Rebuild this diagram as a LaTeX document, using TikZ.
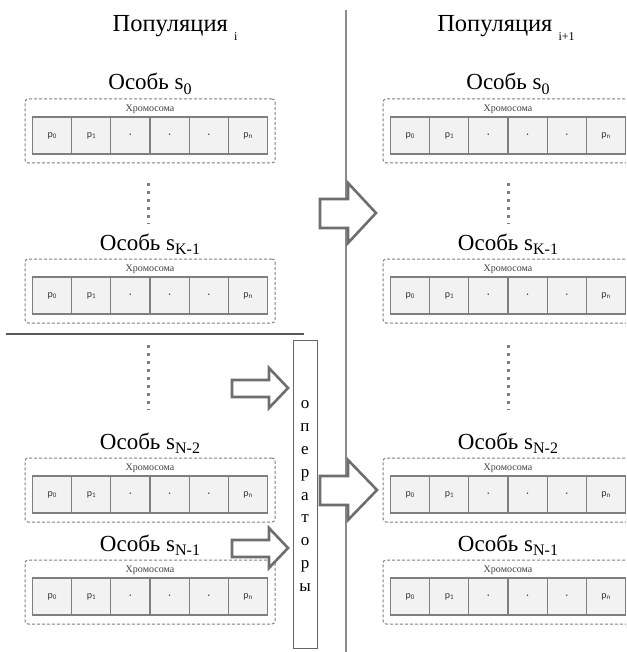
\documentclass[tikz,border=0pt]{standalone}
\usepackage{fontspec}
\setmainfont{Liberation Serif}
\newfontfamily\cellfont{Carlito}
\definecolor{boxgray}{HTML}{7F7F7F}
\definecolor{cellfill}{HTML}{F2F2F2}
\definecolor{arrgray}{HTML}{6E6E6E}
\definecolor{linegray}{HTML}{8C8C8C}
\newcommand\osub[1]{\raisebox{-0.45ex}{\fontsize{16}{16}\selectfont #1}}
\newcommand\csub[1]{\raisebox{-0.35ex}{\fontsize{7}{7}\selectfont #1}}
\newcommand\psub[1]{\raisebox{-0.75ex}{\fontsize{12}{12}\selectfont #1}}
\tikzset{
  ttl/.style={font=\fontsize{23}{23}\selectfont, text=black, inner sep=0pt, anchor=base},
  poptl/.style={font=\fontsize{24.5}{24.5}\selectfont, text=black, inner sep=0pt, anchor=base},
  chromo/.style={draw=boxgray, line width=1pt, dash pattern=on 3pt off 2pt, rounded corners=3pt,
    minimum width=250pt, minimum height=64pt, inner sep=0pt},
  chrlbl/.style={font=\fontsize{10}{10}\selectfont, text=black!75, inner sep=0pt},
  cell/.style={draw=boxgray, line width=1.3pt, fill=cellfill, minimum width=39.17pt, minimum height=37pt,
    inner sep=0pt, font=\cellfont\fontsize{10}{10}\selectfont, text=black!80},
  dots/.style={draw=boxgray, line width=3pt, dash pattern=on 3pt off 5pt},
  fatarrow/.style={draw=arrgray, line width=2.6pt, fill=white, line join=miter},
}
\newcommand\indiv[4]{%
  \node[ttl] (#1t) at (#2,#3-9) {Особь s\osub{#4}};
  \node[chromo] (#1) at (#2,#3+32) {};
  \node[chrlbl] (#1l) at (#2,#3+10) {Хромосома};
  \foreach \i/\txt in {0/p\csub{0},1/p\csub{1},2/\textperiodcentered,3/\textperiodcentered,4/\textperiodcentered,5/p\csub{n}}{
    \node[cell] (#1c\i) at ({#2-117.5+39.17*(\i+0.5)},#3+36.5) {\txt};
  }
}
\begin{document}
\begin{tikzpicture}[x=1pt,y=-1pt]
\useasboundingbox (0,0) rectangle (626,652);
\clip (0,0) rectangle (626,652);
% titles
\node[poptl] (popL) at (175,32) {Популяция \psub{i}};
\node[poptl] (popR) at (506,32) {Популяция \psub{i+1}};
% separator
\coordinate (vtop) at (346,10);
\coordinate (vbot) at (346,652);
\draw[linegray, line width=1.3pt] (vtop) -- (vbot);
\coordinate (hl) at (6,334);
\coordinate (hr) at (304,334);
\draw[black!65, line width=2.4pt] (hl) -- (hr);
% left column
\indiv{L0}{150}{99}{0}
\indiv{L1}{150}{259}{K-1}
\indiv{L2}{150}{458}{N-2}
\indiv{L3}{150}{560}{N-1}
% right column
\indiv{R0}{508}{99}{0}
\indiv{R1}{508}{259}{K-1}
\indiv{R2}{508}{458}{N-2}
\indiv{R3}{508}{560}{N-1}
% dotted lines
\coordinate (dl1a) at (148,183); \coordinate (dl1b) at (148,224);
\coordinate (dl2a) at (148,345); \coordinate (dl2b) at (148,410);
\coordinate (dr1a) at (508,183); \coordinate (dr1b) at (508,224);
\coordinate (dr2a) at (508,345); \coordinate (dr2b) at (508,410);
\draw[dots] (dl1a) -- (dl1b);
\draw[dots] (dl2a) -- (dl2b);
\draw[dots] (dr1a) -- (dr1b);
\draw[dots] (dr2a) -- (dr2b);
% operators box
\node[draw=black!60, line width=0.8pt, minimum width=24pt, minimum height=308pt, inner sep=0pt, fill=white] (ops) at (305,494) {};
\node[font=\fontsize{17}{22.8}\selectfont, align=center, inner sep=0pt] (opstxt) at (305,496) {о\\п\\е\\р\\а\\т\\о\\р\\ы};
% big arrows
\draw[fatarrow] (320,199) -- (348,199) -- (348,183) -- (376,213) -- (348,243) -- (348,228) -- (320,228) -- cycle;
\draw[fatarrow] (320,476) -- (348,476) -- (348,460) -- (377,490) -- (348,520) -- (348,505) -- (320,505) -- cycle;
% small arrows
\draw[fatarrow] (232,380) -- (269,380) -- (269,368) -- (288,388) -- (269,408) -- (269,397) -- (232,397) -- cycle;
\draw[fatarrow] (232,540) -- (269,540) -- (269,528) -- (288,548) -- (269,568) -- (269,557) -- (232,557) -- cycle;
\end{tikzpicture}
\end{document}
